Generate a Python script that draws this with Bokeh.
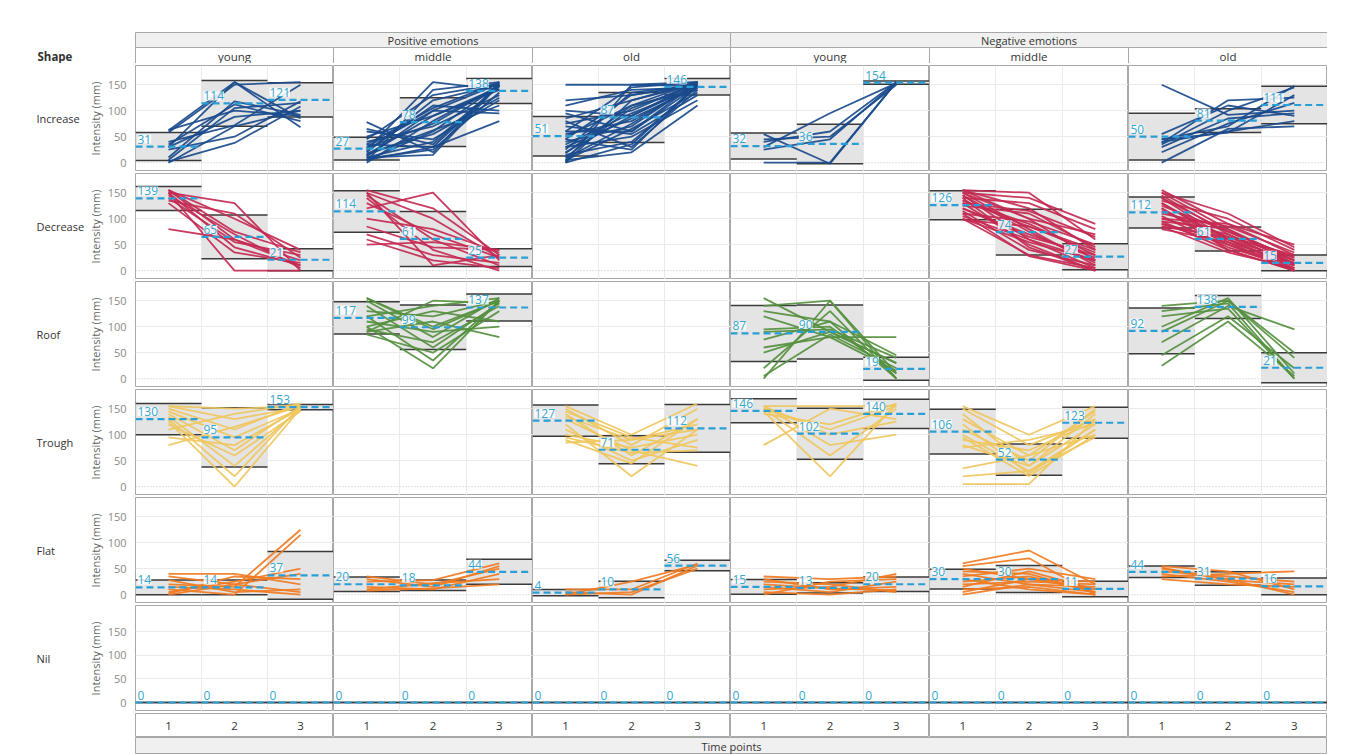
from bokeh.plotting import figure
from bokeh.layouts import column, row
from bokeh.models import Range1d, FixedTicker, Span, Spacer
from bokeh.core.properties import value
from bokeh.embed import file_html
from bokeh.resources import INLINE

FONT = "Open Sans"

# ---------------- data ----------------
shapes = ["Increase", "Decrease", "Roof", "Trough", "Flat", "Nil"]
emotions = ["Positive emotions", "Negative emotions"]
age_groups = ["young", "middle", "old", "young", "middle", "old"]
time_points = [1, 2, 3]
y_ticks = [0, 50, 100, 150]

# mean intensity (mm) per panel and time point (None = no trajectories)
mean_increase = [[31, 114, 121], [27, 78, 138], [51, 87, 146], [32, 36, 154], None, [50, 81, 111]]
mean_decrease = [[139, 65, 21], [114, 61, 25], None, None, [126, 74, 27], [112, 61, 15]]
mean_roof = [None, [117, 99, 137], None, [87, 90, 19], None, [92, 138, 21]]
mean_trough = [[130, 95, 153], None, [127, 71, 112], [146, 102, 140], [106, 52, 123], None]
mean_flat = [[14, 14, 37], [20, 18, 44], [4, 10, 56], [15, 13, 20], [30, 30, 11], [44, 31, 16]]
mean_nil = [[0, 0, 0], [0, 0, 0], [0, 0, 0], [0, 0, 0], [0, 0, 0], [0, 0, 0]]

# spread (band half-height) per panel and time point
sd_increase = [[27, 44, 33], [22, 47, 24], [38, 48, 16], [25, 38, 3], None, [45, 23, 36]]
sd_decrease = [[23, 42, 21], [40, 53, 17], None, None, [28, 44, 25], [30, 23, 15]]
sd_roof = [None, [31, 43, 26], None, [54, 52, 22], None, [44, 22, 29]]
sd_trough = [[30, 57, 5], None, [30, 27, 46], [23, 49, 28], [43, 30, 30], None]
sd_flat = [[14, 14, 46], [14, 10, 24], [6, 16, 10], [14, 10, 14], [19, 26, 15], [11, 13, 16]]
sd_nil = [[0, 0, 0], [0, 0, 0], [0, 0, 0], [0, 0, 0], [0, 0, 0], [0, 0, 0]]

# individual trajectories (t1, t2, t3)
inc_pos_young = [[63, 100, 90], [62, 155, 85], [30, 155, 68], [10, 118, 92], [5, 105, 115], [0, 70, 100],
                 [35, 112, 80], [25, 50, 118], [2, 38, 108], [30, 88, 100], [58, 150, 155], [40, 72, 150]]
inc_pos_middle = [[5, 60, 150], [10, 40, 148], [15, 90, 145], [20, 120, 150], [25, 155, 140], [30, 100, 95],
                  [35, 30, 150], [40, 70, 130], [78, 20, 155], [60, 45, 120], [5, 30, 80], [0, 80, 148],
                  [12, 100, 152], [18, 55, 125], [22, 110, 100], [45, 130, 152], [8, 25, 135], [28, 75, 148],
                  [50, 90, 140], [3, 140, 155], [15, 62, 110], [35, 105, 155], [65, 35, 148], [10, 15, 150]]
inc_pos_old = [[150, 150, 155], [120, 130, 150], [110, 140, 145], [100, 90, 150], [95, 60, 148], [85, 120, 152],
               [80, 30, 140], [75, 100, 155], [70, 55, 130], [60, 145, 155], [55, 80, 150], [50, 110, 140],
               [45, 25, 150], [40, 70, 155], [35, 95, 145], [30, 50, 120], [25, 135, 150], [20, 90, 155],
               [15, 40, 145], [10, 105, 150], [5, 65, 135], [0, 35, 150], [0, 120, 155], [5, 20, 110],
               [30, 85, 145], [60, 60, 155], [8, 75, 152], [2, 150, 148], [18, 110, 155], [45, 130, 150]]
inc_neg_young = [[25, 45, 155], [40, 60, 155], [45, 50, 150], [55, -2, 155], [0, 0, 155], [30, 95, 153]]
inc_neg_old = [[150, 92, 100], [35, 100, 145], [45, 70, 148], [30, 85, 95], [40, 60, 80], [20, 75, 115],
               [55, 110, 90], [0, 65, 70], [38, 120, 125], [45, 58, 130]]

dec_pos_young = [[155, 100, 40], [155, 60, 20], [150, 45, 10], [145, 70, 5], [150, 130, 0], [140, 55, 30],
                 [135, 110, 25], [130, 35, 15], [80, 60, 10], [150, 0, 0], [155, 75, 35]]
dec_pos_middle = [[155, 120, 30], [150, 100, 25], [145, 60, 10], [140, 40, 0], [120, 150, 20], [100, 80, 35],
                  [85, 45, 40], [70, 30, 15], [60, 20, 5], [150, 10, 30], [130, 70, 25], [50, 55, 40]]
dec_neg_middle = [[155, 150, 60], [155, 120, 40], [150, 100, 20], [150, 80, 10], [145, 60, 5], [140, 130, 80],
                  [135, 90, 30], [130, 50, 0], [125, 110, 45], [120, 70, 25], [115, 40, 10], [110, 95, 50],
                  [105, 60, 20], [100, 30, 5], [98, 85, 35], [150, 140, 90], [145, 75, 15], [140, 45, 0],
                  [130, 115, 65], [120, 65, 30], [110, 28, 0], [100, 55, 20], [155, 100, 70], [135, 85, 40]]
dec_neg_old = [[155, 90, 30], [150, 80, 20], [145, 70, 10], [140, 60, 5], [135, 100, 40], [130, 55, 0],
               [125, 75, 25], [120, 50, 10], [115, 65, 15], [110, 85, 35], [105, 45, 5], [100, 70, 20],
               [95, 40, 0], [90, 60, 10], [85, 35, 5], [80, 55, 15], [150, 110, 45], [140, 75, 25],
               [100, 90, 50], [90, 50, 0], [120, 40, 0], [85, 65, 30], [130, 60, 20], [95, 80, 12]]

roof_pos_middle = [[155, 100, 150], [150, 80, 155], [140, 60, 145], [130, 120, 150], [120, 140, 155],
                   [110, 90, 100], [100, 20, 150], [95, 70, 140], [90, 110, 80], [85, 50, 130],
                   [155, 95, 150], [100, 130, 110], [120, 35, 150], [90, 150, 145]]
roof_neg_young = [[155, 90, 30], [140, 150, 0], [130, 110, 0], [95, 100, 10], [90, 95, 40], [75, 110, 45],
                  [60, 80, 80], [20, 130, 0], [5, 85, 20], [0, 150, 10], [120, 80, 15], [50, 90, 30]]
roof_neg_old = [[130, 145, 0], [100, 155, 10], [90, 150, 50], [70, 140, 95], [45, 120, 20], [25, 110, 5],
                [140, 150, 40], [120, 135, 0]]

tr_pos_young = [[155, 150, 155], [155, 130, 153], [150, 110, 160], [145, 95, 150], [140, 70, 155],
                [135, 40, 150], [130, 20, 155], [125, 0, 150], [120, 60, 145], [110, 140, 160],
                [95, 80, 150], [80, 115, 155]]
tr_pos_old = [[155, 100, 160], [150, 80, 150], [140, 60, 130], [135, 90, 120], [130, 70, 40], [120, 20, 110],
              [110, 50, 90], [100, 75, 100], [95, 65, 70], [90, 45, 130], [85, 90, 110], [145, 95, 75]]
tr_neg_young = [[155, 155, 155], [155, 80, 100], [150, 60, 150], [145, 20, 160], [150, 110, 155],
                [155, 100, 125], [80, 150, 130], [140, 120, 160]]
tr_neg_middle = [[155, 100, 155], [150, 80, 130], [140, 40, 120], [130, 60, 100], [120, 25, 110],
                 [110, 50, 150], [100, 30, 95], [90, 70, 125], [80, 40, 140], [75, 90, 120], [20, 30, 110],
                 [5, 5, 130], [35, 60, 145], [95, 20, 100]]

flat_pos_young = [[40, 40, 20], [35, 20, 5], [28, 5, 10], [20, 15, 125], [10, 0, 115], [5, 25, 50],
                  [2, 35, 30], [15, 10, 0], [0, 20, 40]]
flat_pos_middle = [[35, 20, 50], [30, 15, 55], [25, 28, 60], [15, 10, 40], [10, 22, 30], [8, 12, 20]]
flat_pos_old = [[0, 25, 58], [5, 0, 56], [10, 10, 60], [0, 5, 50]]
flat_neg_young = [[35, 30, 35], [30, 10, 15], [25, 20, 5], [15, 5, 25], [10, 15, 40], [5, 0, 10],
                  [0, 25, 30], [20, 12, 8]]
flat_neg_middle = [[60, 85, 20], [55, 70, 0], [50, 30, 10], [45, 40, 5], [40, 20, 15], [35, 50, 30],
                   [30, 10, 0], [25, 35, 5], [20, 25, 20], [15, 45, 10], [10, 15, 0], [5, 30, 25], [0, 20, 5]]
flat_neg_old = [[55, 45, 10], [50, 30, 0], [45, 35, 25], [40, 25, 5], [35, 40, 45], [30, 20, 15], [52, 28, 20]]

lines_increase = [inc_pos_young, inc_pos_middle, inc_pos_old, inc_neg_young, [], inc_neg_old]
lines_decrease = [dec_pos_young, dec_pos_middle, [], [], dec_neg_middle, dec_neg_old]
lines_roof = [[], roof_pos_middle, [], roof_neg_young, [], roof_neg_old]
lines_trough = [tr_pos_young, [], tr_pos_old, tr_neg_young, tr_neg_middle, []]
lines_flat = [flat_pos_young, flat_pos_middle, flat_pos_old, flat_neg_young, flat_neg_middle, flat_neg_old]
lines_nil = [[], [], [], [], [], []]

shape_colors = ["#1a4b8c", "#c42a52", "#55903f", "#f0c75e", "#f07b22", "#888888"]

# ---------------- layout constants ----------------
LABEL_W = 84
AXIS_W = 51
COL_W = [198, 199, 198, 199, 199, 199]
ROW_H = 106
SEP_H = 2
HEAD_H = 63
TOTAL_W = LABEL_W + AXIS_W + sum(COL_W)
LEFT = LABEL_W + AXIS_W
Y_RANGES = [(-17, 187)] * 5 + [(-19, 205)]

MEAN_COLOR = "#2a9fd6"
LABEL_COLOR = "#35a6cf"
BAND_FILL = "#e4e4e4"
BAND_LINE = "#3a3a3a"
BORDER = "#a8a8a8"
SEP_COLOR = "#555555"

all_means = [mean_increase, mean_decrease, mean_roof, mean_trough, mean_flat, mean_nil]
all_sds = [sd_increase, sd_decrease, sd_roof, sd_trough, sd_flat, sd_nil]
all_lines = [lines_increase, lines_decrease, lines_roof, lines_trough, lines_flat, lines_nil]


def base_fig(w, h, xr, yr, **kw):
    p = figure(width=w, height=h, x_range=xr, y_range=yr, output_backend="svg",
               toolbar_location=None, min_border=0, x_axis_location=None, y_axis_location=None,
               background_fill_color="white", border_fill_color="white", **kw)
    p.grid.visible = False
    return p


def make_panel(r, c):
    first = c == 0
    w = COL_W[c] + (AXIS_W if first else 0)
    p = figure(width=w, height=ROW_H, x_range=Range1d(0.5, 3.5), y_range=Range1d(*Y_RANGES[r]),
               output_backend="svg", toolbar_location=None, min_border=0,
               min_border_left=AXIS_W if first else 0,
               x_axis_location=None, y_axis_location="left" if first else None,
               background_fill_color="white", border_fill_color="white",
               outline_line_color=BORDER, outline_line_width=1)
    p.xgrid.ticker = FixedTicker(ticks=[1.5, 2.5])
    p.ygrid.ticker = FixedTicker(ticks=[50, 100, 150])
    p.xgrid.grid_line_color = "#ebebeb"
    p.ygrid.grid_line_color = "#ebebeb"
    p.add_layout(Span(location=0, dimension="width", line_color="#c4c4c4",
                      line_dash="1 2", line_width=1, level="underlay"))
    if first:
        ax = p.yaxis[0]
        ax.ticker = FixedTicker(ticks=y_ticks)
        ax.axis_line_color = None
        ax.major_tick_line_color = None
        ax.minor_tick_line_color = None
        ax.major_label_standoff = 3
        ax.major_label_text_font = FONT
        ax.major_label_text_font_size = "11px"
        ax.major_label_text_color = "#8a8a8a"
        ax.axis_label = "Intensity (mm)"
        ax.axis_label_standoff = 2
        ax.axis_label_text_font = FONT
        ax.axis_label_text_font_size = "11px"
        ax.axis_label_text_font_style = "normal"
        ax.axis_label_text_color = "#666666"

    mean = all_means[r][c]
    sd = all_sds[r][c]
    lines = all_lines[r][c]
    if mean is None:
        return p
    left = [t - 0.5 for t in time_points]
    right = [t + 0.5 for t in time_points]
    lo = [m - s for m, s in zip(mean, sd)]
    hi = [m + s for m, s in zip(mean, sd)]
    p.quad(left=left, right=right, bottom=lo, top=hi, fill_color=BAND_FILL, line_color=None)
    p.segment(x0=left, x1=right, y0=lo, y1=lo, line_color=BAND_LINE, line_width=1.5)
    p.segment(x0=left, x1=right, y0=hi, y1=hi, line_color=BAND_LINE, line_width=1.5)
    if lines:
        p.multi_line(xs=[time_points] * len(lines), ys=lines, line_color=shape_colors[r],
                     line_width=1.8, line_alpha=0.92)
    p.segment(x0=left, x1=right, y0=mean, y1=mean, line_color=MEAN_COLOR, line_width=2.2,
              line_dash="7 4")
    p.text(x=left, y=mean, text=[str(m) for m in mean], text_font=value(FONT),
           text_font_size="12px", text_color=LABEL_COLOR, text_align="left",
           text_baseline="bottom", x_offset=2, y_offset=-3,
           background_fill_color="white", background_fill_alpha=0.85)
    return p


def separator():
    p = base_fig(TOTAL_W, SEP_H, Range1d(0, TOTAL_W), Range1d(0, 1), outline_line_color=None)
    p.quad(left=[20], right=[TOTAL_W], bottom=[0], top=[1], fill_color=SEP_COLOR, line_color=None)
    return p


# header
edges = [LEFT]
for wv in COL_W:
    edges.append(edges[-1] + wv)
header = base_fig(TOTAL_W, HEAD_H, Range1d(0, TOTAL_W), Range1d(HEAD_H, 0), outline_line_color=None)
header.quad(left=[edges[0], edges[3]], right=[edges[3], edges[6]], top=[32, 32], bottom=[47, 47],
            fill_color="#f0f0f0", line_color=BORDER)
header.quad(left=edges[:-1], right=edges[1:], top=[47] * 6, bottom=[HEAD_H] * 6,
            fill_color="white", line_color=BORDER)
header.text(x=[(edges[0] + edges[3]) / 2, (edges[3] + edges[6]) / 2], y=[39.5, 39.5], text=emotions,
            text_font=value(FONT), text_font_size="11px", text_color="#333333",
            text_align="center", text_baseline="middle")
header.text(x=[(a + b) / 2 for a, b in zip(edges[:-1], edges[1:])], y=[55.5] * 6, text=age_groups,
            text_font=value(FONT), text_font_size="11.5px", text_color="#333333",
            text_align="center", text_baseline="middle")
header.text(x=[37], y=[56], text=["Shape"], text_font=value(FONT), text_font_size="11.5px",
            text_font_style="bold", text_color="#333333", text_align="left", text_baseline="middle")

rows = [header, separator()]
for r, shape in enumerate(shapes):
    lab = base_fig(LABEL_W, ROW_H, Range1d(0, LABEL_W), Range1d(0, 1), outline_line_color=None)
    lab.text(x=[36], y=[0.5], text=[shape], text_font=value(FONT), text_font_size="11px",
             text_color="#333333", text_align="left", text_baseline="middle")
    rows.append(row([lab] + [make_panel(r, c) for c in range(6)]))
    rows.append(separator())

# bottom tick row
ticks = [Spacer(width=LEFT, height=24)]
for c in range(6):
    t = base_fig(COL_W[c], 24, Range1d(0.5, 3.5), Range1d(0, 1), outline_line_color=BORDER)
    t.text(x=time_points, y=[0.5] * 3, text=[str(v) for v in time_points], text_font=value(FONT),
           text_font_size="11.5px", text_color="#333333", text_align="center", text_baseline="middle")
    ticks.append(t)
rows.append(row(ticks))

tp = base_fig(sum(COL_W), 17, Range1d(0, 1), Range1d(0, 1), outline_line_color=BORDER)
tp.background_fill_color = "#f0f0f0"
tp.text(x=[0.5], y=[0.5], text=["Time points"], text_font=value(FONT), text_font_size="11px",
        text_color="#333333", text_align="center", text_baseline="middle")
rows.append(row([Spacer(width=LEFT, height=17), tp]))

layout = column(rows)
open("out.html", "w").write(file_html(layout, INLINE))
